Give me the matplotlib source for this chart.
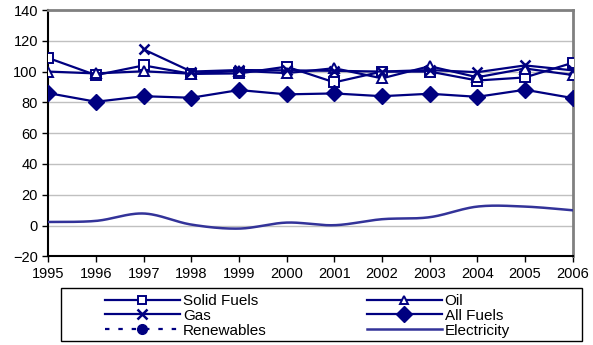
import numpy as np
import matplotlib
matplotlib.use("Agg")
import matplotlib.pyplot as plt
from matplotlib.lines import Line2D
from matplotlib.patches import Rectangle

plt.rcParams['font.family'] = ['Liberation Sans', 'DejaVu Sans']

# data
years = [1995, 1996, 1997, 1998, 1999, 2000, 2001, 2002, 2003, 2004, 2005, 2006]
solid_fuels = [108.8, 97.7, 104.0, 98.5, 98.8, 103.2, 93.0, 100.0, 100.0, 94.2, 96.2, 105.7]
oil = [100.0, 98.8, 100.2, 98.6, 100.5, 99.0, 102.2, 95.6, 103.5, 96.3, 102.0, 97.8]
gas = [np.nan, np.nan, 114.4, 100.0, 101.0, 100.8, 100.5, 100.0, 101.0, 99.6, 104.0, 100.8]
all_fuels = [86.0, 80.4, 84.0, 83.0, 88.0, 85.2, 85.8, 84.0, 85.6, 83.6, 88.2, 82.8]
renewables = [np.nan] * 12
electricity = [2.3, 3.0, 7.8, 0.6, -2.0, 1.9, 0.2, 4.1, 5.4, 12.3, 12.3, 9.9]

navy = '#000080'
elec_col = '#333399'


def smooth(xs, ys, n=30):
    # Catmull-Rom style smoothing like a spreadsheet "smoothed line"
    xs = np.asarray(xs, float)
    ys = np.asarray(ys, float)
    px = np.concatenate([[xs[0]], xs, [xs[-1]]])
    py = np.concatenate([[ys[0]], ys, [ys[-1]]])
    outx, outy = [], []
    for i in range(1, len(px) - 2):
        p0 = np.array([px[i - 1], py[i - 1]])
        p1 = np.array([px[i], py[i]])
        p2 = np.array([px[i + 1], py[i + 1]])
        p3 = np.array([px[i + 2], py[i + 2]])
        c1 = p1 + (p2 - p0) / 6.0
        c2 = p2 - (p3 - p1) / 6.0
        t = np.linspace(0, 1, n)[:, None]
        pts = ((1 - t) ** 3) * p1 + 3 * ((1 - t) ** 2) * t * c1 + 3 * (1 - t) * t ** 2 * c2 + t ** 3 * p2
        outx.extend(pts[:, 0])
        outy.extend(pts[:, 1])
    return outx, outy


fig = plt.figure(figsize=(5.93, 3.45), dpi=100)
ax = fig.add_axes([0.0815, 0.2571, 0.8842, 0.7139])

ax.plot(years, solid_fuels, color=navy, lw=1.6, marker='s', ms=6.5, mfc='white', mec=navy, mew=1.4, zorder=3)
ax.plot(years, oil, color=navy, lw=1.6, marker='^', ms=6.5, mfc='white', mec=navy, mew=1.4, zorder=3)
ax.plot(years, gas, color=navy, lw=1.6, marker='x', ms=7.5, mec=navy, mew=1.8, zorder=3)
ax.plot(years, all_fuels, color=navy, lw=1.6, marker='D', ms=8, mfc=navy, mec=navy, zorder=3)
ax.plot(years, renewables, color=navy, lw=1.6, ls=(0, (2, 4)), marker='o', ms=7, mfc=navy, zorder=3)
sx, sy = smooth(years, electricity)
ax.plot(sx, sy, color=elec_col, lw=1.8, zorder=3)

ax.set_xlim(1995, 2006)
ax.set_ylim(-20, 140)
ax.set_xticks(years)
ax.set_yticks(range(-20, 141, 20))
ax.tick_params(labelsize=10.5, length=4, width=1, color='black', direction='out')
ax.yaxis.grid(True, color='#c0c0c0', lw=1)
ax.set_axisbelow(True)
for side in ['left', 'bottom']:
    ax.spines[side].set_color('black')
    ax.spines[side].set_linewidth(1.5)
for side in ['top', 'right']:
    ax.spines[side].set_color('#808080')
    ax.spines[side].set_linewidth(2)

# legend box drawn separately, entries placed inside it
fig.patches.append(Rectangle((61 / 593, 1 - 341 / 345), 521 / 593, 53 / 345,
                             transform=fig.transFigure, fill=False,
                             edgecolor='black', lw=1))
handles = [
    Line2D([], [], color=navy, lw=1.6, marker='s', ms=6, mfc='white', mec=navy, mew=1.4),
    Line2D([], [], color=navy, lw=1.6, marker='x', ms=7, mec=navy, mew=1.8),
    Line2D([], [], color=navy, lw=1.6, ls=(0, (2, 4)), marker='o', ms=7, mfc=navy),
    Line2D([], [], color=navy, lw=1.6, marker='^', ms=6, mfc='white', mec=navy, mew=1.4),
    Line2D([], [], color=navy, lw=1.6, marker='D', ms=8, mfc=navy, mec=navy),
    Line2D([], [], color=elec_col, lw=1.8),
]
labels = ['Solid Fuels', 'Gas', 'Renewables', 'Oil', 'All Fuels', 'Electricity']
fig.legend(handles, labels, ncol=2, loc='upper left',
           bbox_to_anchor=(105 / 593, 1 - 294 / 345),
           borderaxespad=0, borderpad=0, fontsize=11, handlelength=4.9,
           handletextpad=0.2, labelspacing=0.05, columnspacing=6.55,
           frameon=False)

fig.savefig('out.png', dpi=100)
